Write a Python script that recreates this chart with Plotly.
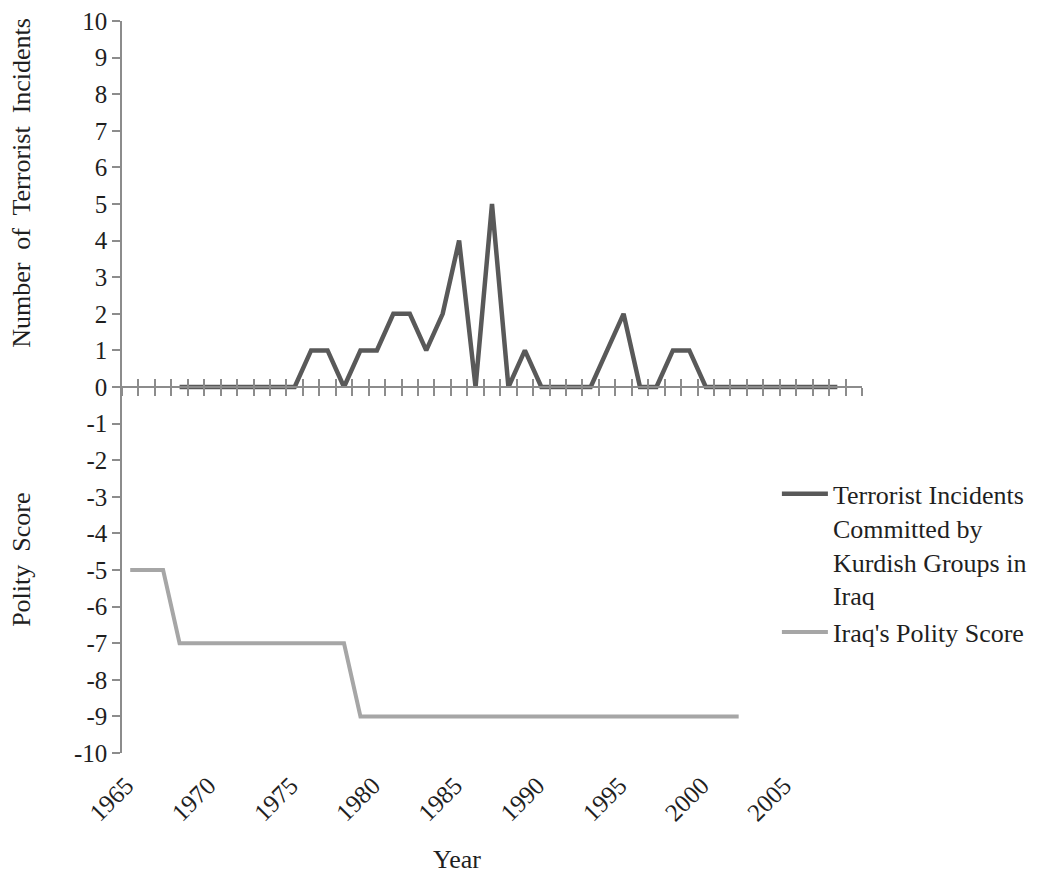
import plotly.graph_objects as go

# ---- data ----
terror_years = list(range(1968, 2009))
terror_counts = [0, 0, 0, 0, 0, 0, 0, 0,          # 1968-1975
                 1, 1, 0, 1, 1, 2, 2, 1, 2, 4,     # 1976-1985
                 0, 5, 0, 1, 0, 0, 0, 0, 1, 2,     # 1986-1995
                 0, 0, 1, 1, 0,                    # 1996-2000
                 0, 0, 0, 0, 0, 0, 0, 0]           # 2001-2008

polity_years = list(range(1965, 2003))
polity_scores = [-5, -5, -5,                       # 1965-1967
                 -7, -7, -7, -7, -7, -7, -7, -7, -7, -7, -7,   # 1968-1978
                 -9, -9, -9, -9, -9, -9, -9, -9, -9, -9, -9, -9,  # 1979-1990
                 -9, -9, -9, -9, -9, -9, -9, -9, -9, -9, -9, -9]  # 1991-2002

x_label_years = [1965, 1970, 1975, 1980, 1985, 1990, 1995, 2000, 2005]
x_label_text = [str(y) for y in x_label_years]
category_edges = [1964.5 + i for i in range(46)]
y_ticks = list(range(-10, 11))
y_tick_text = [str(v) for v in y_ticks]

FONT = "Liberation Serif"
AXIS_COLOR = "#8c8c8c"
TEXT_COLOR = "#1f1f1f"

fig = go.Figure()
fig.add_trace(go.Scatter(
    x=terror_years, y=terror_counts, mode="lines",
    name="Terrorist Incidents<br>Committed by<br>Kurdish Groups in<br>Iraq",
    line=dict(color="#595959", width=4.5),
))
fig.add_trace(go.Scatter(
    x=polity_years, y=polity_scores, mode="lines",
    name="Iraq's Polity Score",
    line=dict(color="#a6a6a6", width=4),
))

xr = [1964.5, 2009.5]
fig.update_layout(
    template="none",
    width=1029, height=870,
    margin=dict(l=114, r=175, t=13, b=125, autoexpand=False),
    paper_bgcolor="white", plot_bgcolor="white",
    font=dict(family=FONT, size=25, color=TEXT_COLOR),
    showlegend=True,
    legend=dict(x=0.885, xanchor="left", y=0.386, yanchor="top",
                valign="top", font=dict(family=FONT, size=26, color=TEXT_COLOR),
                bgcolor="rgba(0,0,0,0)", borderwidth=0, itemwidth=46),
    xaxis=dict(range=xr, tickvals=x_label_years, ticktext=x_label_text,
               tickangle=-45, showline=False, ticks="", showgrid=False,
               zeroline=False, automargin=False,
               tickfont=dict(family=FONT, size=25, color=TEXT_COLOR),
               ticklabelstandoff=12, ticklabelshift=-4,
               ticklabeloverflow="allow"),
    xaxis2=dict(range=xr, overlaying="x", anchor="free", position=0.5,
                showline=True, linecolor=AXIS_COLOR, linewidth=1.5,
                ticks="outside", ticklen=8, tickwidth=1.5, tickcolor=AXIS_COLOR,
                tickvals=category_edges, showticklabels=False, showgrid=False,
                zeroline=False, automargin=False),
    xaxis3=dict(range=xr, overlaying="x", anchor="free", position=0.5,
                showline=False, ticks="inside", ticklen=8, tickwidth=1.5,
                tickcolor=AXIS_COLOR, tickvals=category_edges,
                showticklabels=False, showgrid=False, zeroline=False,
                automargin=False),
    yaxis=dict(range=[-10, 10], tickvals=y_ticks, ticktext=y_tick_text,
               showline=True, linecolor=AXIS_COLOR, linewidth=1.5,
               ticks="outside", ticklen=8, tickwidth=1.5, tickcolor=AXIS_COLOR,
               showgrid=False, zeroline=False, automargin=False,
               ticklabeloverflow="allow",
               tickfont=dict(family=FONT, size=25, color=TEXT_COLOR)),
    annotations=[
        dict(text="Number  of  Terrorist  Incidents", xref="paper", yref="paper",
             x=-0.135, xanchor="center", y=0.779, yanchor="middle",
             textangle=-90, showarrow=False,
             font=dict(family=FONT, size=26, color=TEXT_COLOR)),
        dict(text="Polity  Score", xref="paper", yref="paper",
             x=-0.135, xanchor="center", y=0.264, yanchor="middle",
             textangle=-90, showarrow=False,
             font=dict(family=FONT, size=26, color=TEXT_COLOR)),
        dict(text="Year", xref="paper", yref="paper",
             x=0.453, xanchor="center", y=-0.146, yanchor="middle",
             showarrow=False, font=dict(family=FONT, size=26, color=TEXT_COLOR)),
    ],
)
# invisible helper traces so the overlay axes are rendered
fig.add_trace(go.Scatter(x=[2000], y=[0], xaxis="x2", mode="markers",
                         marker=dict(opacity=0), showlegend=False, hoverinfo="skip"))
fig.add_trace(go.Scatter(x=[2000], y=[0], xaxis="x3", mode="markers",
                         marker=dict(opacity=0), showlegend=False, hoverinfo="skip"))

fig.write_html("out.html")
